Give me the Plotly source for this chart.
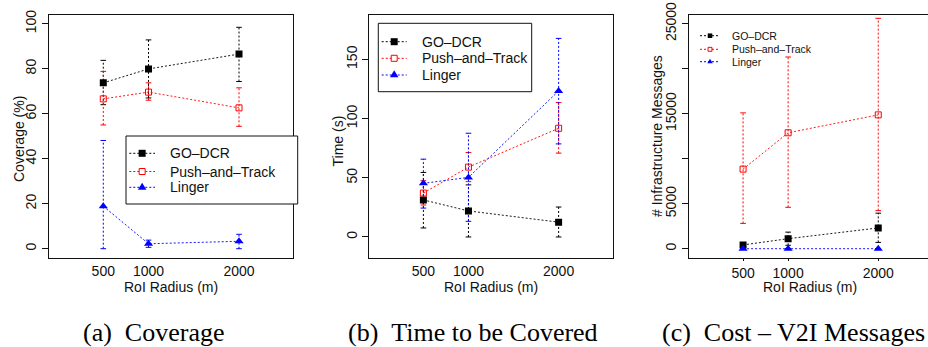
import plotly.graph_objects as go

# ---------------- data ----------------
radius = [500, 1000, 2000]
radius_ticks = [500, 1000, 2000]
series_names = ["GO\u2013DCR", "Push\u2013and\u2013Track", "Linger"]

cov_go = [73.7, 79.9, 86.5]
cov_go_lo = [64.0, 67.0, 74.3]
cov_go_hi = [83.7, 92.8, 98.4]
cov_pt = [66.6, 69.6, 62.6]
cov_pt_lo = [55.0, 66.0, 54.4]
cov_pt_hi = [78.8, 73.7, 71.5]
cov_li = [18.9, 2.2, 3.3]
cov_li_lo = [0.0, 0.6, 0.0]
cov_li_hi = [48.1, 3.8, 6.4]

time_go = [31.3, 22.0, 12.5]
time_go_lo = [7.6, 0.0, 0.0]
time_go_hi = [54.5, 44.0, 25.3]
time_pt = [37.1, 59.0, 91.8]
time_pt_lo = [27.0, 46.7, 70.8]
time_pt_hi = [47.5, 71.3, 113.5]
time_li = [45.3, 50.3, 123.3]
time_li_lo = [24.4, 13.2, 78.6]
time_li_hi = [65.7, 87.6, 167.7]

msg_go = [420, 1110, 2310]
msg_go_lo = [200, 380, 700]
msg_go_hi = [640, 1840, 3950]
msg_pt = [8840, 12880, 14870]
msg_pt_lo = [2810, 4600, 4230]
msg_pt_hi = [15090, 21300, 25600]
msg_li = [0, 0, 0]
msg_li_lo = [0, 0, 0]
msg_li_hi = [0, 0, 0]

cov_ticks = [0, 20, 40, 60, 80, 100]
time_ticks = [0, 50, 100, 150]
msg_ticks = [0, 5000, 10000, 15000, 20000, 25000]
msg_ticklabels = ["0", "5000", "", "15000", "", "25000"]

captions = ["(a)  Coverage", "(b)  Time to be Covered", "(c)  Cost \u2013 V2I Messages"]
y_titles = ["Coverage (%)", "Time (s)", "# Infrastructure Messages"]
x_title = "RoI Radius (m)"

# ---------------- styles ----------------
W, H = 928, 347
SANS = "Liberation Sans"
SERIF = "Liberation Serif"
INK = "#111111"
COL = ["#000000", "#ff0000", "#0000ff"]
DASH = "2px,2px"
MK = [dict(symbol="square", size=7, color="#000000"),
      dict(symbol="square-open", size=6, color="#ff0000", line=dict(width=1, color="#ff0000")),
      dict(symbol="triangle-up", size=8, color="#0000ff")]


def px(x):
    return x / W


def py(y):
    return 1 - y / H


fig = go.Figure()

panels = [
    ("x", "y", [(cov_go, cov_go_lo, cov_go_hi), (cov_pt, cov_pt_lo, cov_pt_hi), (cov_li, cov_li_lo, cov_li_hi)]),
    ("x2", "y2", [(time_go, time_go_lo, time_go_hi), (time_pt, time_pt_lo, time_pt_hi), (time_li, time_li_lo, time_li_hi)]),
    ("x3", "y3", [(msg_go, msg_go_lo, msg_go_hi), (msg_pt, msg_pt_lo, msg_pt_hi), (msg_li, msg_li_lo, msg_li_hi)]),
]

for xa, ya, series in panels:
    for k, (vals, lo, hi) in enumerate(series):
        sx, sy = [], []
        for xv, l, h in zip(radius, lo, hi):
            sx += [xv, xv, None]
            sy += [l, h, None]
        fig.add_trace(go.Scatter(x=sx, y=sy, mode="lines", xaxis=xa, yaxis=ya,
                                 line=dict(color=COL[k], width=1, dash=DASH),
                                 showlegend=False, hoverinfo="skip"))
        fig.add_trace(go.Scatter(x=radius + radius, y=list(lo) + list(hi), mode="markers",
                                 xaxis=xa, yaxis=ya,
                                 marker=dict(symbol="line-ew", size=4, line=dict(width=1, color=COL[k])),
                                 showlegend=False, hoverinfo="skip"))
    for k, (vals, lo, hi) in enumerate(series):
        fig.add_trace(go.Scatter(x=radius, y=vals, mode="lines+markers", xaxis=xa, yaxis=ya,
                                 name=series_names[k],
                                 line=dict(color=COL[k], width=0.9, dash=DASH),
                                 marker=MK[k], showlegend=False))

# ---------------- axes ----------------
YD = [py(257.7), py(14.7)]
common_x = dict(showline=True, linecolor=INK, linewidth=1, mirror=True, showgrid=False,
                zeroline=False, tickmode="array", tickvals=radius_ticks,
                tickfont=dict(family=SANS, size=14, color=INK), ticks="", automargin=False)
common_y = dict(showline=True, linecolor=INK, linewidth=1, mirror=True, showgrid=False,
                zeroline=False, tickmode="array", ticks="outside", ticklen=6, tickcolor=INK,
                tickangle=-90, tickfont=dict(family=SANS, size=14, color=INK), automargin=False)

fig.update_layout(
    xaxis=dict(common_x, domain=[px(49), px(293.3)], range=[-100, 2600], anchor="y"),
    xaxis2=dict(common_x, domain=[px(369.3), px(612.7)], range=[-100, 2600], anchor="y2"),
    xaxis3=dict(common_x, domain=[px(689), 1.0], range=[-100, 2552], anchor="y3",
                ticks="outside", ticklen=2, tickcolor=INK),
    yaxis=dict(common_y, domain=YD, range=[-4, 104], tickvals=cov_ticks, anchor="x"),
    yaxis2=dict(common_y, domain=YD, range=[-17.5, 187.7], tickvals=time_ticks, anchor="x2"),
    yaxis3=dict(common_y, domain=YD, range=[-1000, 26000], tickvals=msg_ticks,
                ticktext=msg_ticklabels, anchor="x3", mirror=False),
)

# ---------------- legends (drawn as keys) ----------------
shapes = []
annotations = []

legend_specs = [
    # frame (x0,x1,y0,y1) or None, line x0, line x1, text x, entry ys, marker scale, font size
    ((126, 297.7, 136, 204), 129.3, 155, 168.3, [153.3, 171.5, 187.3], 1.0, 14),
    ((378.3, 531.7, 23.3, 91.7), 381.7, 406.7, 420, [41.7, 58.3, 75.0], 1.0, 14),
    (None, 700, 720, 729.5, [35.7, 49.3, 61.7], 0.65, 10.5),
]

for frame, lx0, lx1, tx, ys, sc, fs in legend_specs:
    if frame is not None:
        x0, x1, y0, y1 = frame
        shapes.append(dict(type="rect", xref="paper", yref="paper", x0=px(x0), x1=px(x1),
                           y0=py(y1), y1=py(y0), line=dict(color=INK, width=1),
                           fillcolor="white", layer="above"))
    cx = (lx0 + lx1) / 2
    for k, yy in enumerate(ys):
        shapes.append(dict(type="line", xref="paper", yref="paper", x0=px(lx0), x1=px(lx1),
                           y0=py(yy), y1=py(yy), line=dict(color=COL[k], width=1, dash=DASH),
                           layer="above"))
        if k == 0:
            s = 7 * sc
            shapes.append(dict(type="rect", xref="paper", yref="paper",
                               x0=px(cx - s / 2), x1=px(cx + s / 2), y0=py(yy + s / 2), y1=py(yy - s / 2),
                               line=dict(width=0), fillcolor=COL[0], layer="above"))
        elif k == 1:
            s = 6 * sc
            shapes.append(dict(type="rect", xref="paper", yref="paper",
                               x0=px(cx - s / 2), x1=px(cx + s / 2), y0=py(yy + s / 2), y1=py(yy - s / 2),
                               line=dict(width=1, color=COL[1]), fillcolor="white", layer="above"))
        else:
            w, h = 8.5 * sc, 7 * sc
            path = (f"M {px(cx - w / 2)},{py(yy + h / 3)} L {px(cx + w / 2)},{py(yy + h / 3)} "
                    f"L {px(cx)},{py(yy - 2 * h / 3)} Z")
            shapes.append(dict(type="path", xref="paper", yref="paper", path=path,
                               line=dict(width=0), fillcolor=COL[2], layer="above"))
        annotations.append(dict(text=series_names[k], xref="paper", yref="paper", x=px(tx), y=py(yy),
                                xanchor="left", yanchor="middle", showarrow=False,
                                font=dict(family=SANS, size=fs, color=INK)))

# ---------------- titles & captions ----------------
for txt, xx, yy in zip(y_titles, [18.5, 338, 657], [139.5, 141.5, 136]):
    annotations.append(dict(text=txt, xref="paper", yref="paper", x=px(xx), y=py(yy),
                            xanchor="center", yanchor="middle", textangle=-90, showarrow=False,
                            font=dict(family=SANS, size=14, color=INK)))
for xx in [170.5, 490.5, 809.5]:
    annotations.append(dict(text=x_title, xref="paper", yref="paper", x=px(xx), y=py(287),
                            xanchor="center", yanchor="middle", showarrow=False,
                            font=dict(family=SANS, size=14, color=INK)))
for txt, xx in zip(captions, [153, 473, 793]):
    annotations.append(dict(text=txt.replace("  ", "\u2002"), xref="paper", yref="paper",
                            x=px(xx), y=py(332), xanchor="center", yanchor="middle",
                            showarrow=False, font=dict(family=SERIF, size=26, color="#000000")))

fig.update_layout(width=W, height=H, margin=dict(l=0, r=0, t=0, b=0),
                  paper_bgcolor="white", plot_bgcolor="white",
                  shapes=shapes, annotations=annotations, showlegend=False)

fig.write_html("out.html", config={"displayModeBar": False},
               post_script="document.body.style.margin='0px';")
